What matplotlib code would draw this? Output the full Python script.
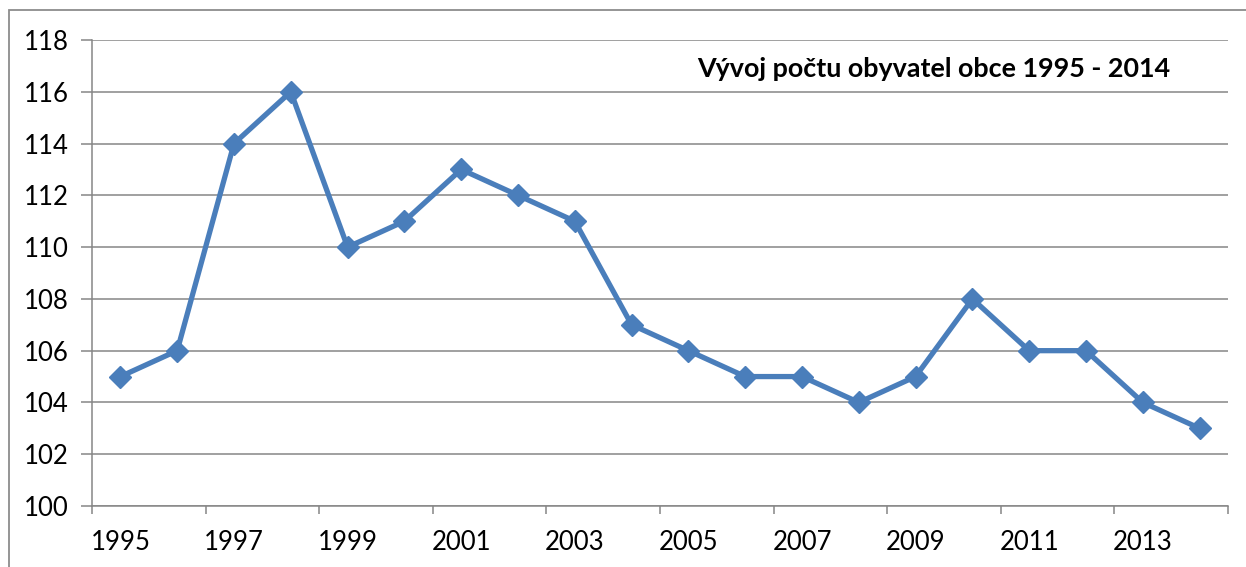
import matplotlib
matplotlib.use('Agg')
import matplotlib.pyplot as plt
from matplotlib.patches import Rectangle

# data
years = list(range(1995, 2015))
population = [105, 106, 114, 116, 110, 111, 113, 112, 111, 107,
              106, 105, 105, 104, 105, 108, 106, 106, 104, 103]
title = 'Vývoj počtu obyvatel obce 1995 - 2014'

plt.rcParams['font.family'] = ['Lato', 'DejaVu Sans']

fig = plt.figure(figsize=(12.46, 5.67), dpi=100)
ax = fig.add_axes([92/1246, 1 - 506/567, (1228 - 92)/1246, (506 - 40)/567])

x = list(range(len(years)))
ax.plot(x, population, color='#4A7EBB', linewidth=3.8, marker='D',
        markersize=11, zorder=3)

grid_c = '#868686'
ax.set_ylim(100, 118)
ax.set_yticks(range(100, 119, 2))
ax.set_xlim(-0.5, len(years) - 0.5)
ax.yaxis.grid(True, color=grid_c, linewidth=1.1)
ax.set_axisbelow(True)

# category axis: ticks between categories, labels at every second year
ax.set_xticks([i - 0.5 for i in range(0, len(years) + 1, 2)])
ax.set_xticklabels([])
ax.set_xticks(x[::2], minor=True)
ax.set_xticklabels([str(y) for y in years[::2]], minor=True)
ax.tick_params(axis='x', which='minor', length=0, pad=17, labelsize=18.5)
ax.tick_params(axis='x', which='major', length=6, color=grid_c, width=1.1)
ax.tick_params(axis='y', length=8, color=grid_c, width=1.1, pad=9,
               labelsize=18.5)

for s in ['top', 'right']:
    ax.spines[s].set_visible(False)
for s in ['left', 'bottom']:
    ax.spines[s].set_color(grid_c)
    ax.spines[s].set_linewidth(1.1)

ax.text(0.949, 0.921, title, transform=ax.transAxes, ha='right',
        va='baseline', fontsize=19.4, fontweight='bold')

# outer chart border
fig.patches.append(Rectangle((9/1246, -0.1), 1.2, 1 - 10/567 + 0.1,
                             transform=fig.transFigure, fill=False,
                             edgecolor='#8C8C8C', linewidth=1.3))

fig.savefig('out.png', dpi=100)
